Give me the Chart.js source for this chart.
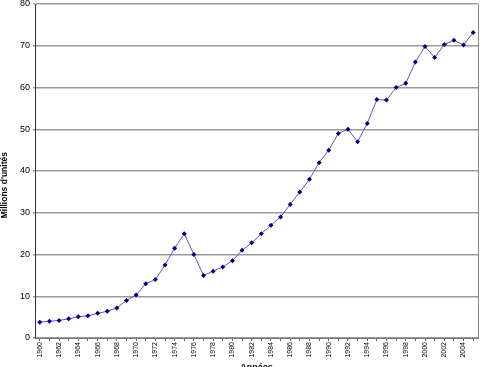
<!DOCTYPE html>
<html>
<head>
<meta charset="utf-8">
<script src="https://cdn.jsdelivr.net/npm/chart.js@4.4.1/dist/chart.umd.min.js"></script>
<style>
  html, body { margin: 0; padding: 0; background: #fff; }
</style>
</head>
<body>
<canvas id="ventesChart" width="482" height="367"></canvas>
<script>
// Données du graphique
const annees = ['1960','1961','1962','1963','1964','1965','1966','1967','1968','1969',
                '1970','1971','1972','1973','1974','1975','1976','1977','1978','1979',
                '1980','1981','1982','1983','1984','1985','1986','1987','1988','1989',
                '1990','1991','1992','1993','1994','1995','1996','1997','1998','1999',
                '2000','2001','2002','2003','2004','2005'];
const millionsUnites = [3.8, 4.0, 4.2, 4.6, 5.1, 5.3, 5.9, 6.4, 7.2, 9.0,
                        10.3, 13.0, 14.0, 17.5, 21.5, 25.0, 20.0, 15.0, 16.0, 17.0,
                        18.5, 21.0, 22.8, 25.0, 27.0, 29.0, 32.0, 35.0, 38.0, 42.0,
                        45.0, 49.0, 50.0, 47.0, 51.4, 57.1, 57.0, 60.0, 61.0, 66.1,
                        69.8, 67.2, 70.3, 71.3, 70.2, 73.2];
const yMin = 0, yMax = 80, yStep = 10;

const police = 'Liberation Sans, Arial, sans-serif';

function chartStartup() {
    const ctx = document.getElementById('ventesChart');

    new Chart(ctx, {
        type: 'line',
        data: {
            labels: annees,
            datasets: [{
                data: millionsUnites,
                borderColor: '#5a5abb',
                borderWidth: 1,
                pointStyle: 'rectRot',
                pointRadius: 2.5,
                pointBackgroundColor: '#000080',
                pointBorderColor: '#000080',
                pointBorderWidth: 0,
                tension: 0
            }]
        },
        options: {
            responsive: false,
            animation: false,
            layout: { padding: 0 },
            plugins: { legend: { display: false }, tooltip: { enabled: false } },
            scales: {
                x: {
                    offset: true,
                    grid: { drawOnChartArea: false, drawTicks: true, tickLength: 3, color: '#666' },
                    border: { color: '#777', width: 1 },
                    ticks: {
                        autoSkip: false,
                        minRotation: 90,
                        maxRotation: 90,
                        padding: 1,
                        color: '#000',
                        font: { family: police, size: 7 },
                        callback: function (val, i) { return i % 2 === 0 ? this.getLabelForValue(val) : ''; }
                    },
                    title: {
                        display: true,
                        text: 'Années',
                        color: '#000',
                        font: { family: police, size: 9, weight: 'bold' },
                        padding: { top: 0, bottom: -6 }
                    },
                    afterFit: (s) => { s.height = 29; s.paddingLeft = 0; s.paddingRight = 1; }
                },
                y: {
                    min: yMin,
                    max: yMax,
                    ticks: { stepSize: yStep, color: '#000', padding: 3, font: { family: police, size: 9 } },
                    grid: { color: '#999', lineWidth: 1.5, tickLength: 2 },
                    border: { color: '#333', width: 1 },
                    title: {
                        display: true,
                        // espaces finales : décalent le titre vers le bas comme dans l'original
                        text: "Millions d'unités\u00a0\u00a0\u00a0\u00a0\u00a0\u00a0\u00a0\u00a0\u00a0\u00a0\u00a0\u00a0",
                        color: '#000',
                        font: { family: police, size: 8.5, weight: 'bold' },
                        padding: { top: 0, bottom: 0 }
                    },
                    afterFit: (s) => { s.width = 35; s.paddingTop = 3; s.paddingBottom = 0; }
                },
                droite: {
                    position: 'right',
                    min: yMin,
                    max: yMax,
                    ticks: { display: false },
                    grid: { display: false },
                    border: { color: '#888', width: 1 },
                    afterFit: (s) => { s.width = 0; s.paddingTop = 3; s.paddingBottom = 0; }
                }
            }
        }
    });
}

chartStartup();
</script>
</body>
</html>
